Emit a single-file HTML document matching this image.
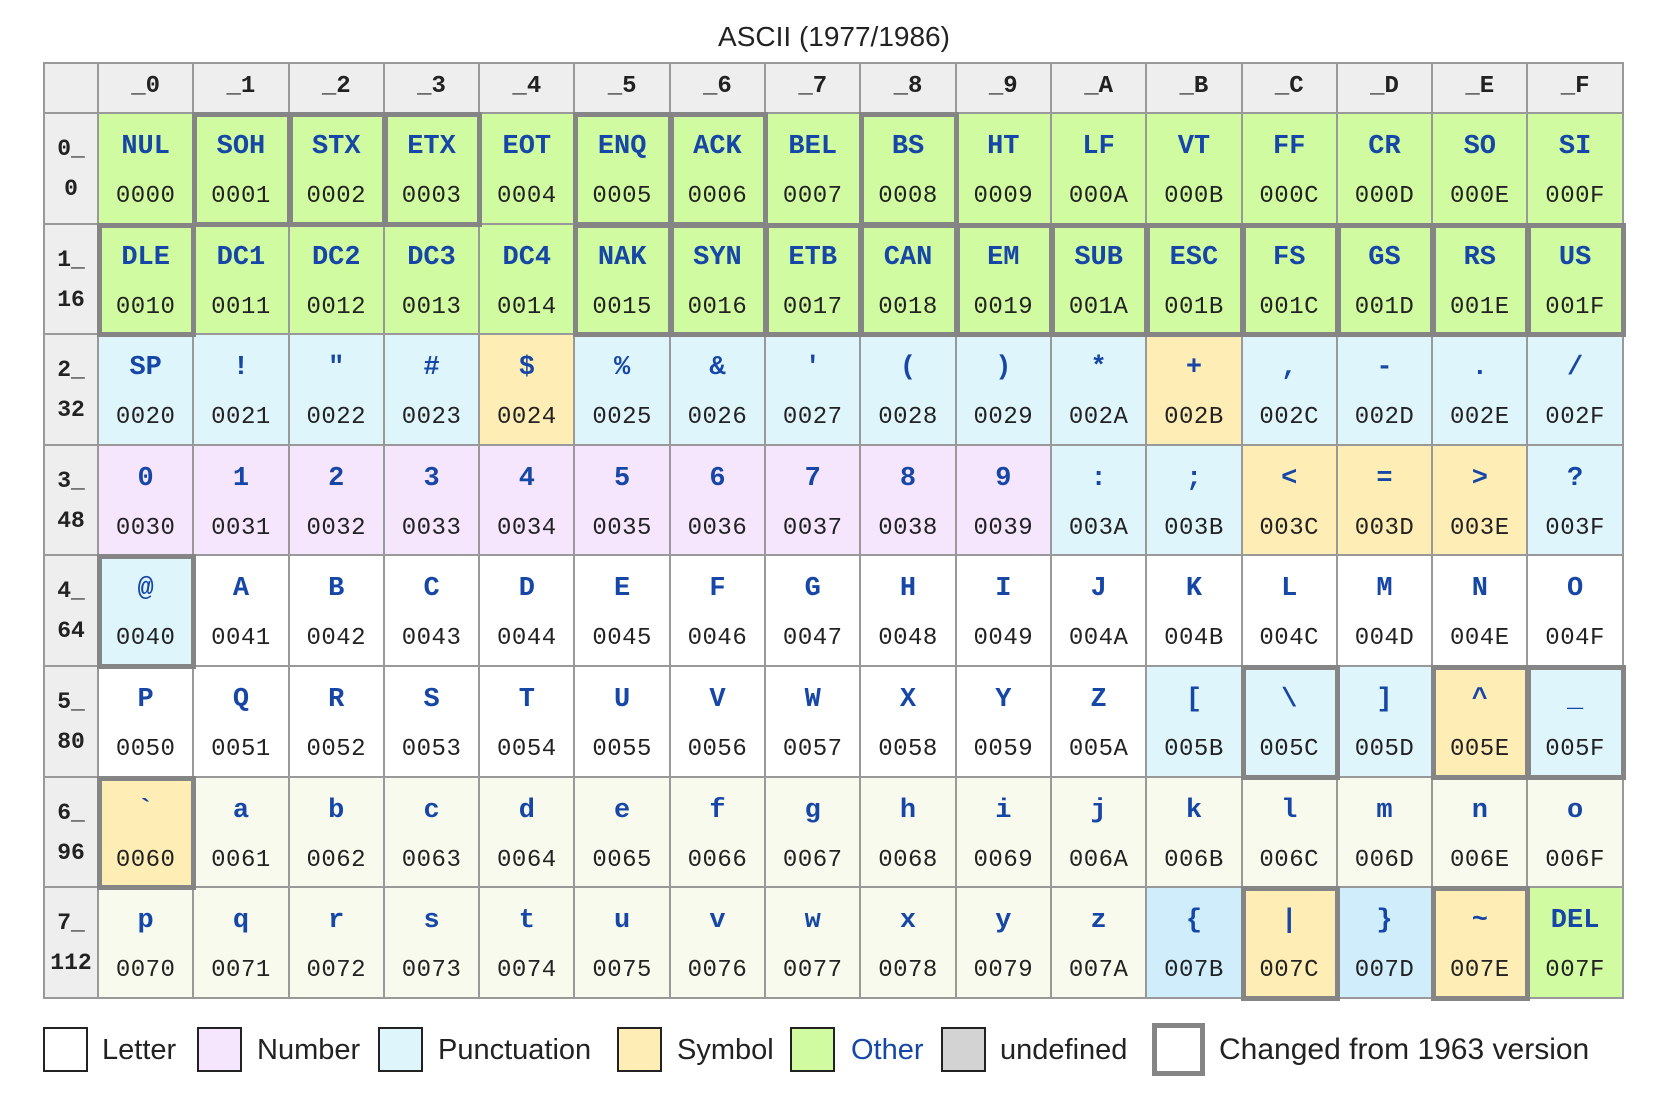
<!DOCTYPE html>
<html><head><meta charset="utf-8"><style>
body{margin:0;width:1664px;height:1104px;background:#fff;position:relative;overflow:hidden;font-family:"Liberation Sans",sans-serif}
.title{position:absolute;left:0;width:1668px;top:20px;text-align:center;font-size:28px;color:#222;line-height:34px}
.g{position:absolute;left:43px;top:62px;display:grid;grid-template-columns:54px repeat(16,95.3px);grid-template-rows:50px repeat(8,110.6px);border-left:2px solid #999;border-top:2px solid #999;box-sizing:border-box}
.g>div{box-sizing:border-box;border-right:2px solid #999;border-bottom:2px solid #999;position:relative;background:#fff;font-family:"Liberation Mono",monospace;text-align:center}
.h{background:#eee!important;font-weight:bold;font-size:24px;line-height:46px;color:#222}
.r b,.r i{position:absolute;left:0;right:0;font-weight:bold;font-style:normal;font-size:23px;color:#222;line-height:30px}
.r b{top:20px}.r i{top:60px}
.c b,.c i{position:absolute;left:0;right:0;line-height:34px;font-style:normal}
.c b{top:16px;font-size:27px;color:#1747a6;font-weight:bold}
.c i{top:66px;font-size:24px;color:#222;letter-spacing:0.5px}
.o{background:#d1fba0!important}.p{background:#dff5fc!important}.s{background:#feedb4!important}.n{background:#f5e6fd!important}.l{background:#f8faed!important}.q{background:#cfedfb!important}
.t{outline:5px solid #858585;outline-offset:-3px;z-index:2}
.lg{position:absolute;top:1027px;width:45px;height:45px;border:2px solid #222;box-sizing:border-box}
.lt{position:absolute;top:1033px;font-size:29px;line-height:34px;color:#222}
</style></head><body>
<div class="title">ASCII (1977/1986)</div>
<div class="g">
<div class="h"></div><div class="h">_0</div><div class="h">_1</div><div class="h">_2</div><div class="h">_3</div><div class="h">_4</div><div class="h">_5</div><div class="h">_6</div><div class="h">_7</div><div class="h">_8</div><div class="h">_9</div><div class="h">_A</div><div class="h">_B</div><div class="h">_C</div><div class="h">_D</div><div class="h">_E</div><div class="h">_F</div>

<div class="h r"><b>0_</b><i>0</i></div>
<div class="c o"><b>NUL</b><i>0000</i></div><div class="c o t"><b>SOH</b><i>0001</i></div><div class="c o t"><b>STX</b><i>0002</i></div><div class="c o t"><b>ETX</b><i>0003</i></div><div class="c o"><b>EOT</b><i>0004</i></div><div class="c o t"><b>ENQ</b><i>0005</i></div><div class="c o t"><b>ACK</b><i>0006</i></div><div class="c o"><b>BEL</b><i>0007</i></div><div class="c o t"><b>BS</b><i>0008</i></div><div class="c o"><b>HT</b><i>0009</i></div><div class="c o"><b>LF</b><i>000A</i></div><div class="c o"><b>VT</b><i>000B</i></div><div class="c o"><b>FF</b><i>000C</i></div><div class="c o"><b>CR</b><i>000D</i></div><div class="c o"><b>SO</b><i>000E</i></div><div class="c o"><b>SI</b><i>000F</i></div>

<div class="h r"><b>1_</b><i>16</i></div>
<div class="c o t"><b>DLE</b><i>0010</i></div><div class="c o"><b>DC1</b><i>0011</i></div><div class="c o"><b>DC2</b><i>0012</i></div><div class="c o"><b>DC3</b><i>0013</i></div><div class="c o"><b>DC4</b><i>0014</i></div><div class="c o t"><b>NAK</b><i>0015</i></div><div class="c o t"><b>SYN</b><i>0016</i></div><div class="c o t"><b>ETB</b><i>0017</i></div><div class="c o t"><b>CAN</b><i>0018</i></div><div class="c o t"><b>EM</b><i>0019</i></div><div class="c o t"><b>SUB</b><i>001A</i></div><div class="c o t"><b>ESC</b><i>001B</i></div><div class="c o t"><b>FS</b><i>001C</i></div><div class="c o t"><b>GS</b><i>001D</i></div><div class="c o t"><b>RS</b><i>001E</i></div><div class="c o t"><b>US</b><i>001F</i></div>

<div class="h r"><b>2_</b><i>32</i></div>
<div class="c p"><b>SP</b><i>0020</i></div><div class="c p"><b>!</b><i>0021</i></div><div class="c p"><b>&quot;</b><i>0022</i></div><div class="c p"><b>#</b><i>0023</i></div><div class="c s"><b>$</b><i>0024</i></div><div class="c p"><b>%</b><i>0025</i></div><div class="c p"><b>&amp;</b><i>0026</i></div><div class="c p"><b>'</b><i>0027</i></div><div class="c p"><b>(</b><i>0028</i></div><div class="c p"><b>)</b><i>0029</i></div><div class="c p"><b>*</b><i>002A</i></div><div class="c s"><b>+</b><i>002B</i></div><div class="c p"><b>,</b><i>002C</i></div><div class="c p"><b>-</b><i>002D</i></div><div class="c p"><b>.</b><i>002E</i></div><div class="c p"><b>/</b><i>002F</i></div>

<div class="h r"><b>3_</b><i>48</i></div>
<div class="c n"><b>0</b><i>0030</i></div><div class="c n"><b>1</b><i>0031</i></div><div class="c n"><b>2</b><i>0032</i></div><div class="c n"><b>3</b><i>0033</i></div><div class="c n"><b>4</b><i>0034</i></div><div class="c n"><b>5</b><i>0035</i></div><div class="c n"><b>6</b><i>0036</i></div><div class="c n"><b>7</b><i>0037</i></div><div class="c n"><b>8</b><i>0038</i></div><div class="c n"><b>9</b><i>0039</i></div><div class="c p"><b>:</b><i>003A</i></div><div class="c p"><b>;</b><i>003B</i></div><div class="c s"><b>&lt;</b><i>003C</i></div><div class="c s"><b>=</b><i>003D</i></div><div class="c s"><b>&gt;</b><i>003E</i></div><div class="c p"><b>?</b><i>003F</i></div>

<div class="h r"><b>4_</b><i>64</i></div>
<div class="c p t"><b>@</b><i>0040</i></div><div class="c"><b>A</b><i>0041</i></div><div class="c"><b>B</b><i>0042</i></div><div class="c"><b>C</b><i>0043</i></div><div class="c"><b>D</b><i>0044</i></div><div class="c"><b>E</b><i>0045</i></div><div class="c"><b>F</b><i>0046</i></div><div class="c"><b>G</b><i>0047</i></div><div class="c"><b>H</b><i>0048</i></div><div class="c"><b>I</b><i>0049</i></div><div class="c"><b>J</b><i>004A</i></div><div class="c"><b>K</b><i>004B</i></div><div class="c"><b>L</b><i>004C</i></div><div class="c"><b>M</b><i>004D</i></div><div class="c"><b>N</b><i>004E</i></div><div class="c"><b>O</b><i>004F</i></div>

<div class="h r"><b>5_</b><i>80</i></div>
<div class="c"><b>P</b><i>0050</i></div><div class="c"><b>Q</b><i>0051</i></div><div class="c"><b>R</b><i>0052</i></div><div class="c"><b>S</b><i>0053</i></div><div class="c"><b>T</b><i>0054</i></div><div class="c"><b>U</b><i>0055</i></div><div class="c"><b>V</b><i>0056</i></div><div class="c"><b>W</b><i>0057</i></div><div class="c"><b>X</b><i>0058</i></div><div class="c"><b>Y</b><i>0059</i></div><div class="c"><b>Z</b><i>005A</i></div><div class="c p"><b>[</b><i>005B</i></div><div class="c p t"><b>\</b><i>005C</i></div><div class="c p"><b>]</b><i>005D</i></div><div class="c s t"><b>^</b><i>005E</i></div><div class="c p t"><b>_</b><i>005F</i></div>

<div class="h r"><b>6_</b><i>96</i></div>
<div class="c s t"><b>`</b><i>0060</i></div><div class="c l"><b>a</b><i>0061</i></div><div class="c l"><b>b</b><i>0062</i></div><div class="c l"><b>c</b><i>0063</i></div><div class="c l"><b>d</b><i>0064</i></div><div class="c l"><b>e</b><i>0065</i></div><div class="c l"><b>f</b><i>0066</i></div><div class="c l"><b>g</b><i>0067</i></div><div class="c l"><b>h</b><i>0068</i></div><div class="c l"><b>i</b><i>0069</i></div><div class="c l"><b>j</b><i>006A</i></div><div class="c l"><b>k</b><i>006B</i></div><div class="c l"><b>l</b><i>006C</i></div><div class="c l"><b>m</b><i>006D</i></div><div class="c l"><b>n</b><i>006E</i></div><div class="c l"><b>o</b><i>006F</i></div>

<div class="h r"><b>7_</b><i>112</i></div>
<div class="c l"><b>p</b><i>0070</i></div><div class="c l"><b>q</b><i>0071</i></div><div class="c l"><b>r</b><i>0072</i></div><div class="c l"><b>s</b><i>0073</i></div><div class="c l"><b>t</b><i>0074</i></div><div class="c l"><b>u</b><i>0075</i></div><div class="c l"><b>v</b><i>0076</i></div><div class="c l"><b>w</b><i>0077</i></div><div class="c l"><b>x</b><i>0078</i></div><div class="c l"><b>y</b><i>0079</i></div><div class="c l"><b>z</b><i>007A</i></div><div class="c q"><b>{</b><i>007B</i></div><div class="c s t"><b>|</b><i>007C</i></div><div class="c q"><b>}</b><i>007D</i></div><div class="c s t"><b>~</b><i>007E</i></div><div class="c o"><b>DEL</b><i>007F</i></div>
</div>

<div class="lg" style="left:43px;background:#fff"></div><div class="lt" style="left:102px">Letter</div>
<div class="lg" style="left:197px;background:#f5e6fd"></div><div class="lt" style="left:257px">Number</div>
<div class="lg" style="left:378px;background:#dff5fc"></div><div class="lt" style="left:438px">Punctuation</div>
<div class="lg" style="left:617px;background:#feedb4"></div><div class="lt" style="left:677px">Symbol</div>
<div class="lg" style="left:790px;background:#d1fba0"></div><div class="lt" style="left:851px;color:#1747a6">Other</div>
<div class="lg" style="left:941px;background:#d3d3d3"></div><div class="lt" style="left:1000px">undefined</div>
<div class="lg" style="left:1152px;width:53px;height:53px;top:1023px;border:5px solid #858585;background:#fff"></div><div class="lt" style="left:1219px;font-size:30px">Changed from 1963 version</div>
</body></html>
